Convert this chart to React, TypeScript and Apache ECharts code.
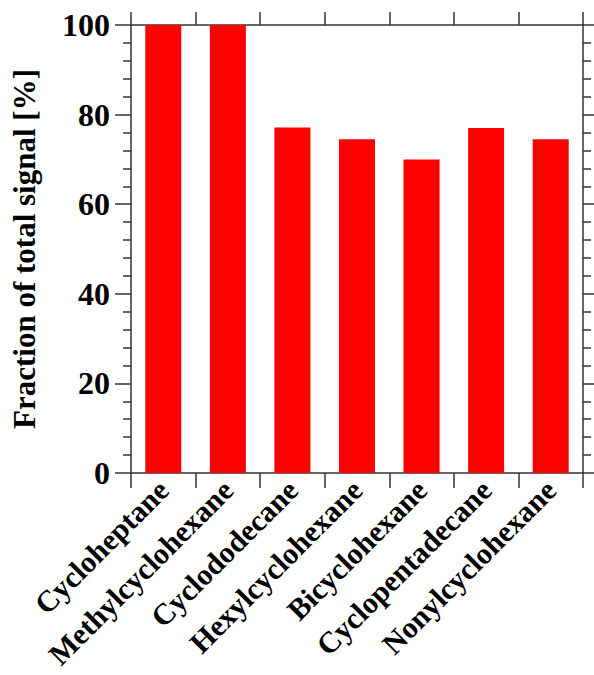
import React, { useEffect, useRef } from "react";
import * as echarts from "echarts";

const categories = [
  "Cycloheptane",
  "Methylcyclohexane",
  "Cyclododecane",
  "Hexylcyclohexane",
  "Bicyclohexane",
  "Cyclopentadecane",
  "Nonylcyclohexane",
];
const fractionValues = [100, 100, 77.1, 74.5, 70.0, 77.0, 74.5];
const yTicks = { min: 0, max: 100, interval: 20 };
const yAxisTitle = "Fraction of total signal [%]";

const FONT = "'Liberation Serif', 'Times New Roman', serif";
const AXIS_COLOR = "#333333";

export default function App() {
  const ref = useRef<HTMLDivElement>(null);

  useEffect(() => {
    document.body.style.margin = "0";
    if (!ref.current) return;
    const chart = echarts.init(ref.current, undefined, { renderer: "svg" });

    const axisLine = { show: true, onZero: false, lineStyle: { color: AXIS_COLOR, width: 1.5 } };

    chart.setOption({
      animation: false,
      backgroundColor: "#ffffff",
      grid: {
        left: 131,
        right: 11,
        top: 25,
        bottom: 202,
        containLabel: false,
        outerBoundsMode: "none",
      },
      xAxis: [
        {
          type: "category",
          data: categories,
          position: "bottom",
          axisLine,
          axisTick: {
            show: true,
            inside: false,
            interval: 0,
            alignWithLabel: false,
            length: 15,
            lineStyle: { color: AXIS_COLOR, width: 1.5 },
          },
          axisLabel: {
            rotate: 45,
            interval: 0,
            margin: 12,
            color: "#000000",
            fontFamily: FONT,
            fontWeight: "bold",
            fontSize: 30,
          },
          splitLine: { show: false },
        },
        {
          type: "category",
          data: categories,
          position: "top",
          axisLine,
          axisTick: {
            show: true,
            inside: false,
            interval: 0,
            alignWithLabel: false,
            length: 13,
            lineStyle: { color: AXIS_COLOR, width: 1.5 },
          },
          axisLabel: { show: false, interval: 0 },
          splitLine: { show: false },
        },
      ],
      yAxis: [
        {
          type: "value",
          position: "left",
          min: yTicks.min,
          max: yTicks.max,
          interval: yTicks.interval,
          name: yAxisTitle,
          nameLocation: "middle",
          nameGap: 91,
          nameTextStyle: {
            color: "#000000",
            fontFamily: FONT,
            fontWeight: "bold",
            fontSize: 31,
          },
          axisLine,
          axisTick: {
            show: true,
            inside: false,
            length: 16,
            lineStyle: { color: AXIS_COLOR, width: 1.5 },
          },
          minorTick: {
            show: true,
            splitNumber: 5,
            length: 8,
            lineStyle: { color: AXIS_COLOR, width: 1.5 },
          },
          axisLabel: {
            margin: 21,
            color: "#000000",
            fontFamily: FONT,
            fontWeight: "bold",
            fontSize: 32,
          },
          splitLine: { show: false },
        },
        {
          type: "value",
          position: "right",
          min: yTicks.min,
          max: yTicks.max,
          interval: yTicks.interval,
          axisLine,
          axisTick: {
            show: true,
            inside: false,
            length: 16,
            lineStyle: { color: AXIS_COLOR, width: 1.5 },
          },
          minorTick: {
            show: true,
            splitNumber: 5,
            length: 8,
            lineStyle: { color: AXIS_COLOR, width: 1.5 },
          },
          axisLabel: { show: false },
          splitLine: { show: false },
        },
      ],
      series: [
        {
          type: "bar",
          data: fractionValues,
          xAxisIndex: 0,
          yAxisIndex: 0,
          barWidth: 36,
          itemStyle: { color: "#ff0000" },
        },
      ],
    });

    return () => chart.dispose();
  }, []);

  return <div ref={ref} style={{ width: 594, height: 675 }} />;
}
